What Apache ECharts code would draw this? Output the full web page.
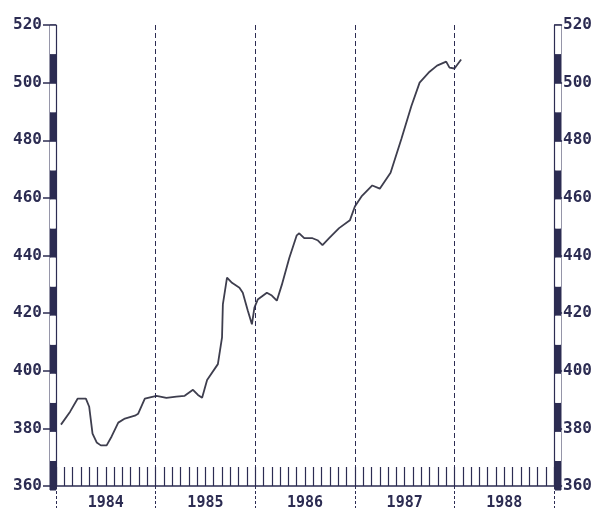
<!DOCTYPE html>
<html><head><meta charset="utf-8">
<script src="https://cdn.jsdelivr.net/npm/echarts@6/dist/echarts.min.js"></script>
<style>html,body{margin:0;padding:0;background:#fff}#c{width:595px;height:511px}</style>
</head><body><div id="c"></div>
<script>
// Month index from Jan 1984 (0) to end of 1988 (60)
const months = [0.6,1.7,2.6,3.6,4.0,4.4,4.9,5.4,6.1,6.7,7.5,8.3,9.5,9.9,10.7,12.1,13.3,14.5,15.5,16.5,17.1,17.6,18.2,19.5,20.0,20.1,20.6,21.2,22.1,22.5,23.1,23.6,23.9,24.3,25.4,26.0,26.6,27.2,28.1,29.0,29.3,29.9,30.9,31.5,32.1,32.9,34.1,35.4,36.0,36.8,38.1,39.0,40.3,41.6,42.8,43.8,45.0,45.9,47.0,47.4,48.0,48.8];
const values = [381.3,385.8,390.3,390.3,387.5,378.2,375.1,374.1,374.1,377.2,382.0,383.4,384.4,385.1,390.3,391.3,390.6,391.0,391.3,393.4,391.6,390.6,396.8,402.3,411.6,423.0,432.3,430.5,428.8,427.1,420.9,416.1,421.9,424.7,427.1,426.1,424.3,429.8,439.1,447.0,447.7,446.0,446.0,445.3,443.6,446.0,449.5,452.2,457.0,460.5,464.3,463.2,468.7,480.4,491.8,500.0,503.8,505.9,507.3,505.2,504.9,508.0];
const yearLabels = ['1984','1985','1986','1987','1988'];
const yearCenters = [6,18,30,42,54];
const yearBoundaries = [12,24,36,48];
const yTicks = {min:360, max:520, step:20};

const ink = '#2c2c52';
const lineInk = '#3e3e4e';
const fontFam = '"DejaVu Sans Mono", monospace';

const chart = echarts.init(document.getElementById('c'), null, {renderer:'canvas'});
const yLabelStyle = {color: ink, fontFamily: fontFam, fontWeight: 'bold', fontSize: 16};

chart.setOption({
  backgroundColor: '#ffffff',
  animation: false,
  grid: [
    {left: 56, right: 40, top: 25, bottom: 21},
    {left: 50, width: 6, top: 25, bottom: 21, show: true, borderColor: ink, borderWidth: 1, backgroundColor: 'transparent'},
    {left: 555, width: 6, top: 25, bottom: 21, show: true, borderColor: ink, borderWidth: 1, backgroundColor: 'transparent'}
  ],
  xAxis: [
    {gridIndex: 0, type: 'value', min: 0, max: 60, interval: 1, position: 'bottom',
     axisLine: {show: true, onZero: false, lineStyle: {color: ink, width: 1.5}},
     axisTick: {show: true, inside: true, length: 19, lineStyle: {color: ink, width: 1.2}},
     axisLabel: {show: true, customValues: yearCenters, margin: 10,
       formatter: v => yearLabels[yearCenters.indexOf(v)] || '',
       color: ink, fontFamily: fontFam, fontWeight: 'bold', fontSize: 15},
     splitLine: {show: false}},
    {gridIndex: 0, type: 'value', min: 0, max: 60, interval: 12, position: 'bottom',
     axisLine: {show: false, onZero: false},
     axisTick: {show: true, inside: false, length: 22, lineStyle: {color: ink, width: 1, type: [3,2]}},
     axisLabel: {show: false}, splitLine: {show: false}},
    {gridIndex: 1, type: 'value', min: 0, max: 1, show: false},
    {gridIndex: 2, type: 'value', min: 0, max: 1, show: false}
  ],
  yAxis: [
    {gridIndex: 0, type: 'value', min: yTicks.min, max: yTicks.max, interval: yTicks.step, position: 'left',
     axisLine: {show: true, onZero: false, lineStyle: {color: ink, width: 1.2}},
     axisTick: {show: true, inside: false, length: 13, lineStyle: {color: ink, width: 1.5}},
     axisLabel: Object.assign({margin: 14}, yLabelStyle),
     splitLine: {show: false}},
    {gridIndex: 0, type: 'value', min: yTicks.min, max: yTicks.max, interval: yTicks.step, position: 'right',
     axisLine: {show: true, onZero: false, lineStyle: {color: ink, width: 1.2}},
     axisTick: {show: true, inside: false, length: 8, lineStyle: {color: ink, width: 1.5}},
     axisLabel: Object.assign({margin: 9}, yLabelStyle),
     splitLine: {show: false}},
    {gridIndex: 1, type: 'value', min: yTicks.min, max: yTicks.max, interval: yTicks.step / 2,
     axisLine: {show: false}, axisTick: {show: false}, axisLabel: {show: false}, splitLine: {show: false},
     splitArea: {show: true, areaStyle: {color: [ink, '#ffffff']}}},
    {gridIndex: 2, type: 'value', min: yTicks.min, max: yTicks.max, interval: yTicks.step / 2,
     axisLine: {show: false}, axisTick: {show: false}, axisLabel: {show: false}, splitLine: {show: false},
     splitArea: {show: true, areaStyle: {color: [ink, '#ffffff']}}}
  ],
  series: [
    {type: 'line', xAxisIndex: 0, yAxisIndex: 0,
     data: months.map((m, i) => [m, values[i]]),
     showSymbol: false, symbol: 'none',
     lineStyle: {color: lineInk, width: 1.8},
     markLine: {silent: true, symbol: ['none','none'], label: {show: false},
       lineStyle: {color: ink, width: 1, type: [5,3]},
       data: yearBoundaries.map(b => ({xAxis: b}))}}
  ]
});
</script></body></html>
